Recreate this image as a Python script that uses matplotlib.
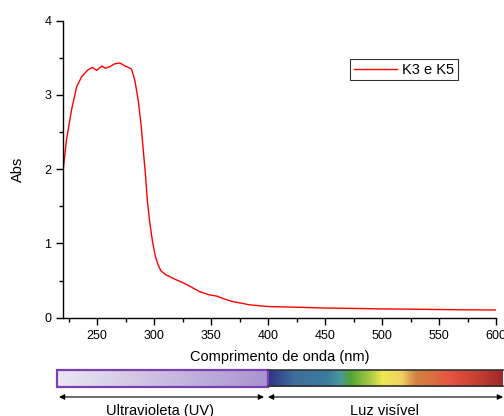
import numpy as np
import matplotlib
matplotlib.use("Agg")
import matplotlib.pyplot as plt
from matplotlib.colors import LinearSegmentedColormap

plt.rcParams['font.family'] = ['Liberation Sans', 'DejaVu Sans']

# Data
wavelength = [220, 223, 227.5, 232, 236.5, 242, 246, 249.5, 254, 257, 261, 265.5, 270, 274.5, 280,
              283, 286, 288.5, 290.5, 292.5, 294, 296, 298.5, 301, 303.5, 306, 310, 318, 325.5,
              333, 340, 348, 355, 362, 368, 375, 383, 393, 400, 428, 450, 475, 500, 525, 550, 575, 600]
absorb = [1.97, 2.39, 2.80, 3.11, 3.25, 3.34, 3.37, 3.33, 3.39, 3.36, 3.38, 3.42, 3.43, 3.39, 3.35,
          3.20, 2.93, 2.60, 2.25, 1.90, 1.58, 1.30, 1.03, 0.83, 0.71, 0.63, 0.58, 0.52, 0.47,
          0.41, 0.35, 0.31, 0.29, 0.25, 0.22, 0.20, 0.175, 0.16, 0.15, 0.14, 0.13, 0.125, 0.118, 0.115, 0.11, 0.106, 0.104]
series_label = "K3 e K5"
x_label = "Comprimento de onda (nm)"
y_label = "Abs"
x_ticks = [250, 300, 350, 400, 450, 500, 550, 600]
y_ticks = [0, 1, 2, 3, 4]
uv_label = "Ultravioleta (UV)"
vis_label = "Luz visível"

fig = plt.figure(figsize=(5.04, 4.16), dpi=100)
W, H = 504, 416
ax = fig.add_axes([63 / W, 1 - 317.7 / H, (496 - 63) / W, (317.7 - 20.7) / H])
ax.plot(wavelength, absorb, color='#ff0000', lw=1.0, label=series_label)
ax.set_xlim(220, 600)
ax.set_ylim(0, 4)
ax.set_xticks(x_ticks)
ax.set_yticks(y_ticks)
ax.set_xticks(np.arange(225, 601, 50), minor=True)
ax.set_yticks(np.arange(0.5, 4, 1.0), minor=True)
for s in ['top', 'right']:
    ax.spines[s].set_visible(False)
for s in ['left', 'bottom']:
    ax.spines[s].set_linewidth(1.0)
ax.tick_params(which='major', direction='out', length=5, width=1, labelsize=9)
ax.tick_params(which='minor', direction='out', length=3, width=1)
ax.set_xlabel(x_label, fontsize=10.5, labelpad=6)
ax.set_ylabel(y_label, fontsize=10.5, labelpad=14)
leg = ax.legend(loc='upper left', bbox_to_anchor=((350 - 63) / (496 - 63), 1 - (59 - 20.7) / 297),
                frameon=True, fancybox=False, fontsize=10.5, handlelength=3.0,
                borderpad=0.25, handletextpad=0.3, borderaxespad=0)
leg.get_frame().set_edgecolor('black')
leg.get_frame().set_linewidth(0.8)

# Spectrum bar
bx0, bx1 = 57, 503
bar = fig.add_axes([bx0 / W, 1 - 386.7 / H, (bx1 - bx0) / W, (386.7 - 370) / H])
nm_per_px = 380 / (496 - 63)
lo = 220 - (63 - bx0) * nm_per_px
hi = 600 + (bx1 - 496) * nm_per_px
bar.axis('off')
uv_cmap = LinearSegmentedColormap.from_list('uv', ['#ebe6f3', '#a894d0'])
vis_cmap = LinearSegmentedColormap.from_list('vis', [
    (0.0, '#2c3488'), (0.11, '#3f6e9c'), (0.25, '#397c9c'), (0.31, '#4c9a9a'),
    (0.35, '#52a232'), (0.43, '#a4c844'), (0.49, '#f0e852'), (0.57, '#efd062'),
    (0.63, '#d28242'), (0.70, '#da7040'), (0.78, '#e65242'), (0.88, '#c84232'), (1.0, '#a0282a')])
grad = np.linspace(0, 1, 256).reshape(1, -1)
bar.imshow(grad, cmap=uv_cmap, aspect='auto', extent=[lo, 400, 0, 1])
bar.imshow(grad, cmap=vis_cmap, aspect='auto', extent=[400, hi, 0, 1])
bar.set_xlim(lo, hi)
bar.set_ylim(0, 1)
bar.plot([400, hi], [0.985, 0.985], color='#333333', lw=1.2, clip_on=False)
bar.plot([400, hi], [0.015, 0.015], color='#333333', lw=1.2, clip_on=False)
bar.add_patch(plt.Rectangle((lo, 0), 400 - lo, 1, fill=False, edgecolor='#7a3fb0', lw=1.6, clip_on=False))

# Arrows
arr = fig.add_axes([bx0 / W, 0, (bx1 - bx0) / W, 30 / H])
arr.set_xlim(lo, hi)
arr.set_ylim(0, 30)
arr.axis('off')
yA = 416 - 397
def x2nm(px):
    return lo + (px - bx0) * nm_per_px
for a, b in [(x2nm(59), x2nm(264)), (x2nm(268), x2nm(503))]:
    arr.annotate('', xy=(a, yA), xytext=(b, yA),
                 arrowprops=dict(arrowstyle='<|-|>', color='black', lw=0.8,
                                 mutation_scale=8, shrinkA=0, shrinkB=0))
arr.text(x2nm(160), 416 - 411, uv_label, ha='center', va='center', fontsize=10.5)
arr.text(x2nm(385), 416 - 411, vis_label, ha='center', va='center', fontsize=10.5)

fig.savefig('out.png', dpi=100)
